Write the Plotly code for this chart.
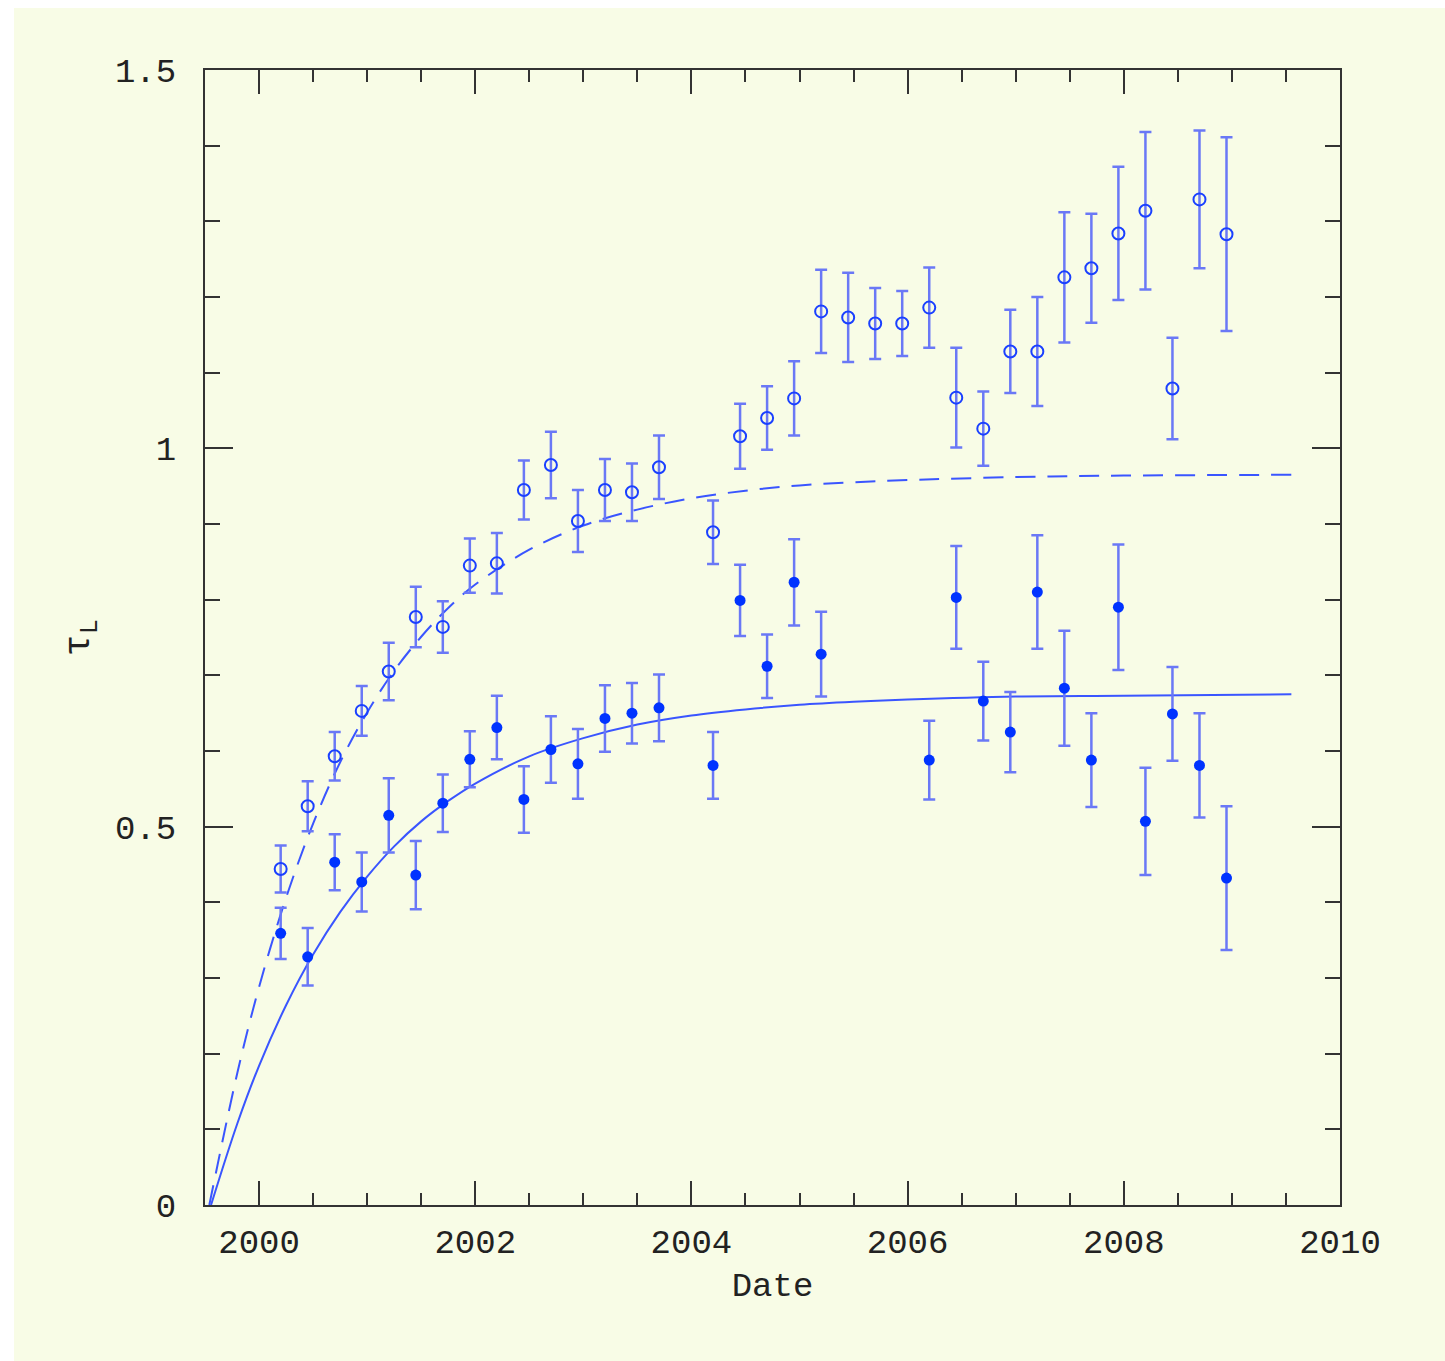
import plotly.graph_objects as go

# Observation dates (decimal years)
t_open = [2000.2, 2000.45, 2000.7, 2000.95, 2001.2, 2001.45, 2001.7, 2001.95, 2002.2, 2002.45,
          2002.7, 2002.95, 2003.2, 2003.45, 2003.7, 2004.2, 2004.45, 2004.7, 2004.95, 2005.2,
          2005.45, 2005.7, 2005.95, 2006.2, 2006.45, 2006.7, 2006.95, 2007.2, 2007.45, 2007.7,
          2007.95, 2008.2, 2008.45, 2008.7, 2008.95]
tau_open = [0.444, 0.527, 0.593, 0.653, 0.705, 0.777, 0.764, 0.845, 0.848, 0.945,
            0.978, 0.904, 0.945, 0.942, 0.975, 0.889, 1.016, 1.040, 1.066, 1.181,
            1.173, 1.165, 1.165, 1.186, 1.067, 1.026, 1.128, 1.128, 1.226, 1.238,
            1.284, 1.314, 1.079, 1.329, 1.283]
err_open = [0.031, 0.033, 0.032, 0.033, 0.038, 0.040, 0.034, 0.036, 0.040, 0.039,
            0.044, 0.041, 0.041, 0.038, 0.042, 0.042, 0.043, 0.042, 0.049, 0.055,
            0.059, 0.047, 0.043, 0.053, 0.066, 0.049, 0.055, 0.072, 0.086, 0.072,
            0.088, 0.104, 0.067, 0.091, 0.128]

t_fill = [2000.2, 2000.45, 2000.7, 2000.95, 2001.2, 2001.45, 2001.7, 2001.95, 2002.2, 2002.45,
          2002.7, 2002.95, 2003.2, 2003.45, 2003.7, 2004.2, 2004.45, 2004.7, 2004.95, 2005.2,
          2006.2, 2006.45, 2006.7, 2006.95, 2007.2, 2007.45, 2007.7, 2007.95, 2008.2, 2008.45,
          2008.7, 2008.95]
tau_fill = [0.359, 0.328, 0.453, 0.427, 0.515, 0.436, 0.531, 0.589, 0.631, 0.536,
            0.602, 0.583, 0.643, 0.650, 0.657, 0.581, 0.799, 0.712, 0.823, 0.728,
            0.588, 0.803, 0.666, 0.625, 0.810, 0.683, 0.588, 0.790, 0.507, 0.649,
            0.581, 0.432]
err_fill = [0.034, 0.038, 0.037, 0.039, 0.049, 0.045, 0.038, 0.037, 0.042, 0.044,
            0.044, 0.046, 0.044, 0.040, 0.044, 0.044, 0.047, 0.042, 0.057, 0.056,
            0.052, 0.068, 0.052, 0.053, 0.075, 0.076, 0.062, 0.083, 0.071, 0.062,
            0.069, 0.095]

# Model curves
t_curve_solid = [1999.556, 1999.8, 2000.0, 2000.25, 2000.5, 2000.75, 2001.0, 2001.25, 2001.5,
                 2001.75, 2002.0, 2002.5, 2003.0, 2003.5, 2004.0, 2004.5, 2005.0, 2005.5,
                 2006.0, 2007.0, 2008.0, 2009.55]
v_curve_solid = [0.0, 0.108, 0.184, 0.264, 0.331, 0.387, 0.434, 0.474, 0.507,
                 0.534, 0.557, 0.593, 0.617, 0.635, 0.647, 0.655, 0.661, 0.665,
                 0.668, 0.672, 0.673, 0.675]
t_curve_dash = [1999.54, 1999.8, 2000.0, 2000.25, 2000.5, 2000.75, 2001.0, 2001.25, 2001.5,
                2001.75, 2002.0, 2002.5, 2003.0, 2003.5, 2004.0, 2004.5, 2005.0, 2005.5,
                2006.0, 2007.0, 2008.0, 2009.55]
v_curve_dash = [0.0, 0.175, 0.288, 0.406, 0.504, 0.585, 0.651, 0.706, 0.751,
                0.789, 0.820, 0.866, 0.898, 0.919, 0.934, 0.944, 0.951, 0.955,
                0.958, 0.962, 0.964, 0.965]

x_ticks = [2000, 2002, 2004, 2006, 2008, 2010]
y_ticks = [0, 0.5, 1, 1.5]
y_tick_text = ["0", "0.5", "1", "1.5"]

BLUE = "#1a40ff"
ERR = "#6a78f6"
BG = "#f8fce6"
FONT = "Liberation Mono"

fig = go.Figure()
fig.add_trace(go.Scatter(x=t_curve_dash, y=v_curve_dash, mode="lines", line_shape="spline",
                         line=dict(color="#3a55ff", width=2, dash="20px,12px"),
                         showlegend=False, hoverinfo="skip"))
fig.add_trace(go.Scatter(x=t_curve_solid, y=v_curve_solid, mode="lines", line_shape="spline",
                         line=dict(color="#3a55ff", width=2),
                         showlegend=False, hoverinfo="skip"))
fig.add_trace(go.Scatter(x=t_open, y=tau_open, mode="markers",
                         marker=dict(symbol="circle-open", size=12, color=BLUE, line=dict(width=2, color=BLUE)),
                         error_y=dict(type="data", array=err_open, color=ERR, thickness=2.5, width=6),
                         showlegend=False))
fig.add_trace(go.Scatter(x=t_fill, y=tau_fill, mode="markers",
                         marker=dict(symbol="circle", size=11, color="#0033ff"),
                         error_y=dict(type="data", array=err_fill, color=ERR, thickness=2.5, width=6),
                         showlegend=False))

L, R, T, B = 205, 105, 70, 156
W, H = 1445, 1361
pw, ph = W - L - R, H - T - B
# white strips at the left and top edges of the page
fig.add_shape(type="rect", xref="paper", yref="paper", layer="below",
              x0=-(L + 10) / pw, x1=(14 - L) / pw, y0=-(B + 10) / ph, y1=(ph + T + 10) / ph,
              fillcolor="white", line=dict(width=0))
fig.add_shape(type="rect", xref="paper", yref="paper", layer="below",
              x0=-(L + 10) / pw, x1=(W - L + 10) / pw, y0=(ph + T - 8) / ph, y1=(ph + T + 10) / ph,
              fillcolor="white", line=dict(width=0))

axis_common = dict(showline=True, linecolor="#333333", linewidth=2, mirror="ticks",
                   ticks="inside", tickcolor="#333333", tickwidth=2,
                   showgrid=False, zeroline=False,
                   tickfont=dict(family=FONT, size=34, color="#222222"))

fig.update_xaxes(range=[1999.5, 2010], tickvals=x_ticks, ticklen=24,
                 minor=dict(dtick=0.5, tick0=2000, ticks="inside", ticklen=12, tickcolor="#333333", tickwidth=2),
                 title=dict(text="Date", font=dict(family=FONT, size=34, color="#222222"), standoff=10),
                 ticklabelstandoff=5,
                 **axis_common)
fig.update_yaxes(range=[0, 1.5], tickvals=y_ticks, ticktext=y_tick_text, ticklen=28,
                 minor=dict(dtick=0.1, tick0=0, ticks="inside", ticklen=15, tickcolor="#333333", tickwidth=2),
                 title=dict(text="τ<sub>L</sub>", font=dict(family=FONT, size=36, color="#222222"), standoff=14),
                 ticklabelstandoff=20,
                 **axis_common)

fig.update_layout(width=W, height=H, margin=dict(l=L, r=R, t=T, b=B, autoexpand=False),
                  paper_bgcolor=BG, plot_bgcolor=BG, showlegend=False)

fig.write_html("out.html")
